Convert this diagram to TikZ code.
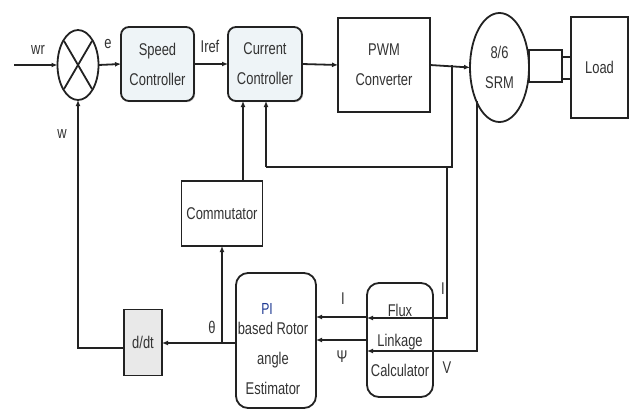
\documentclass[tikz,border=0pt]{standalone}
\usepackage{fontspec}
\setmainfont{Liberation Sans}[FakeStretch=0.76]
\usetikzlibrary{arrows.meta,shapes.geometric,shadows}
\definecolor{ln}{HTML}{222222}
\definecolor{tx}{HTML}{333333}
\definecolor{ctl}{HTML}{EEF4F7}
\definecolor{dd}{HTML}{E9E9E9}
\definecolor{pib}{HTML}{1F3A93}
\begin{document}
\begin{tikzpicture}[x=1pt,y=-1pt,
  every node/.style={font=\fontsize{17}{30}\selectfont, text=tx, inner sep=0pt, outer sep=0pt},
  blk/.style={draw=ln, line width=1.8pt, align=center, fill=white},
  ctlbox/.style={blk, rounded corners=8pt, fill=ctl,
    drop shadow={shadow xshift=1.2pt, shadow yshift=-1.2pt, opacity=0.35}},
  rbox/.style={blk, rounded corners=12pt},
  wire/.style={draw=ln, line width=1.8pt},
  arr/.style={wire, -{Latex[length=6pt,width=5pt]}},
  lbl/.style={font=\fontsize{17}{20}\selectfont}
]
\useasboundingbox (0,0) rectangle (637,412);

% forward path
\node[blk, ellipse, minimum width=41pt, minimum height=70pt] (sum) at (78,65) {};
\draw[wire] ([shift={(-14,-24)}]sum.center) -- ([shift={(14,24)}]sum.center);
\draw[wire] ([shift={(-14,24)}]sum.center) -- ([shift={(14,-24)}]sum.center);
\node[ctlbox, minimum width=73pt, minimum height=74pt] (speed) at (157.5,64) {Speed\\Controller};
\node[ctlbox, minimum width=74pt, minimum height=74pt] (cc) at (265,64) {Current\\Controller};
\node[blk, minimum width=92pt, minimum height=94pt] (pwm) at (384,65) {PWM\\Converter};
\node[blk, ellipse, minimum width=59pt, minimum height=109pt] (srm) at (499.5,67.5) {8/6\\SRM};
\node[blk, minimum width=33pt, minimum height=32pt] (shaft) at (545.5,66) {};
\node[blk, minimum width=9pt, minimum height=22pt] (hub) at (566.5,68) {};
\node[blk, minimum width=57pt, minimum height=101pt] (load) at (599.5,67.5) {Load};

% feedback blocks
\node[blk, minimum width=81pt, minimum height=65pt] (comm) at (222,213.5) {Commutator};
\node[rbox, minimum width=80pt, minimum height=135pt] (est) at (276,340.5) {};
\node[font=\fontsize{16}{18}\selectfont, text=pib] (estpi) at (267,309) {PI};
\node[align=center] (esttxt) at (273,358) {based Rotor\\angle\\Estimator};
\node[rbox, minimum width=66pt, minimum height=114pt] (flux) at (400,340) {Flux\\Linkage\\Calculator};
\node[blk, fill=dd, minimum width=38pt, minimum height=66pt] (ddt) at (143,342.5) {d/dt};

% routing points
\coordinate (in) at (14,65);
\coordinate (br) at (452,65);
\coordinate (cr) at (452,167);
\coordinate (cl) at (266,167);
\coordinate (ci) at (447,167);
\coordinate (ir) at (447,318);
\coordinate (vt) at (477,101);
\coordinate (vb) at (477,351);
\coordinate (iy) at (0,317);
\coordinate (py) at (0,340);
\coordinate (thy) at (0,343);
\coordinate (wy) at (0,348);
\coordinate (cx) at (243,0);

% forward connections
\draw[arr] (in) -- (sum.west);
\draw[arr] (sum.east) -- (speed.west);
\draw[arr] (speed.east) -- (cc.west);
\draw[arr] (cc.east) -- (pwm.west);
\draw[arr] (pwm.east) -- (srm.west);

% current sensing and feedback
\draw[wire] (br) -- (cr) -- (cl);
\draw[arr] (cl) -- (cc.south -| cl);
\draw[arr] (ci) -- (ir) -- (flux.west |- ir);
\draw[arr] (vt) -- (vb) -- (flux.west |- vb);
\draw[arr] (flux.west |- iy) -- (est.east |- iy);
\draw[arr] (flux.west |- py) -- (est.east |- py);
\draw[arr] (est.west |- thy) -- (ddt.east |- thy);
\draw[arr] (comm.south |- thy) -- (comm.south);
\draw[arr] (comm.north -| cx) -- (cc.south -| cx);
\draw[arr] (ddt.west |- wy) -| (sum.south);

% signal labels
\node[lbl] (lwr) at (38,50) {wr};
\node[lbl] (le) at (108,44) {e};
\node[lbl] (liref) at (210,46) {Iref};
\node[lbl] (lw) at (62,134) {w};
\node[lbl] (lth) at (212,327) {θ};
\node[lbl] (li1) at (343,299) {I};
\node[lbl] (lpsi) at (342,357) {Ψ};
\node[lbl] (li2) at (443,289) {I};
\node[lbl] (lv) at (447,368) {V};
\end{tikzpicture}
\end{document}
